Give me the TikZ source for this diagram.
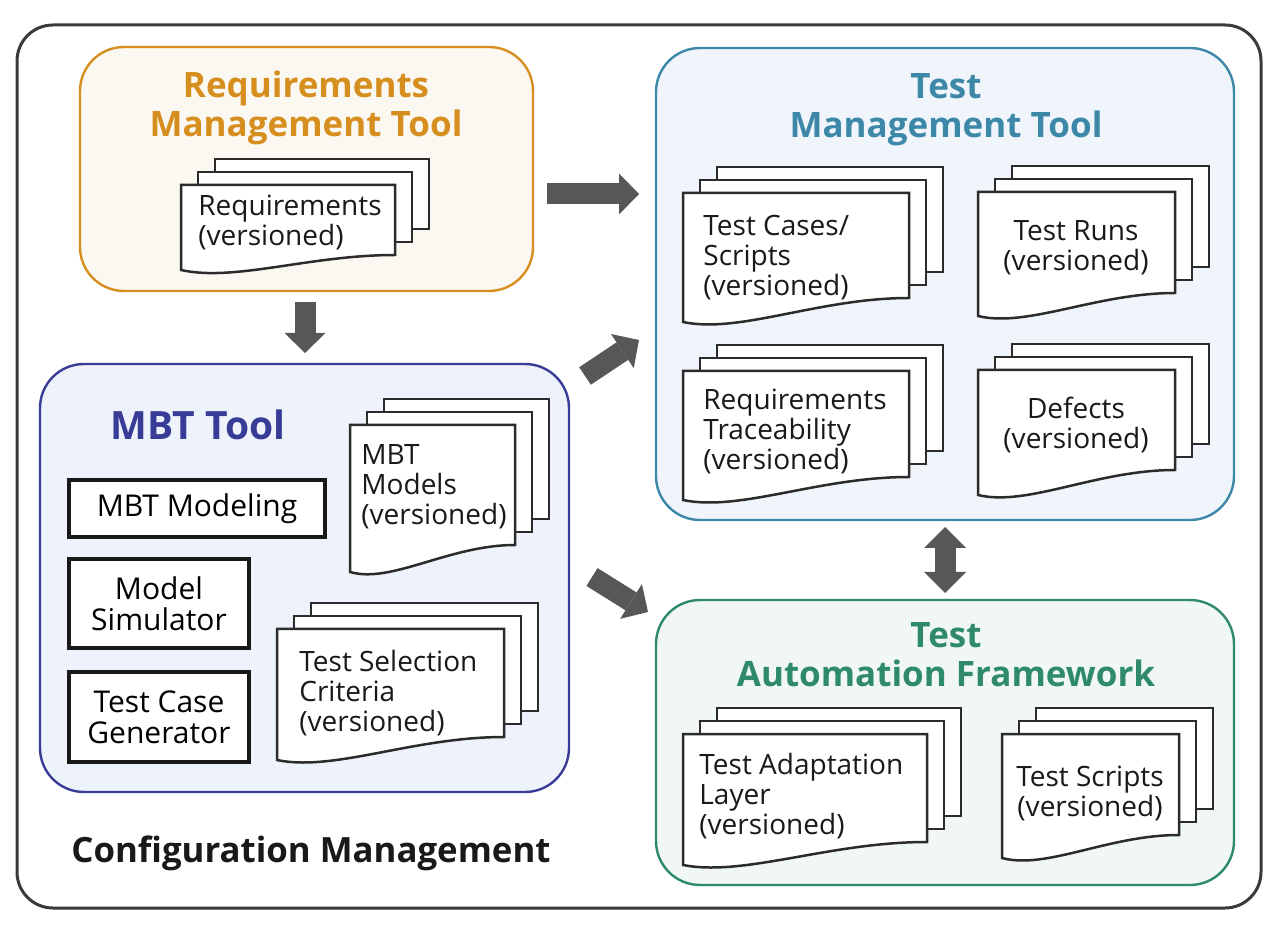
\documentclass[tikz,border=0pt]{standalone}
\usepackage{fontspec}
\setmainfont{Open Sans}
\usepackage{tikz}
\usetikzlibrary{calc, arrows.meta}

\definecolor{framegray}{HTML}{3A3A3A}
\definecolor{arrowgray}{HTML}{575757}
\definecolor{docline}{HTML}{2B2B2B}
\definecolor{reqorange}{HTML}{D68E1E}
\definecolor{reqfill}{HTML}{FBF8F1}
\definecolor{mbtblue}{HTML}{393C97}
\definecolor{mbtfill}{HTML}{EEF2FA}
\definecolor{tmtteal}{HTML}{3D88A8}
\definecolor{tmtfill}{HTML}{EFF5FA}
\definecolor{tafgreen}{HTML}{2E8A68}
\definecolor{taffill}{HTML}{F0F7F4}

% three stacked pages: left, top, width, height, wave depth
\newcommand{\docpages}[5]{%
  \filldraw[docpage] (#1+34,#2-26) rectangle (#1+#3+34,#2+#4-26);
  \filldraw[docpage] (#1+17,#2-13) rectangle (#1+#3+17,#2+#4-13);
  \filldraw[docpage] (#1,#2) -- (#1+#3,#2) -- (#1+#3,#2+#4)
    .. controls (#1+0.6*#3,#2+#4) and (#1+0.25*#3,#2+#4+#5+12) .. (#1,#2+#4+#5) -- cycle;
}

\begin{document}
\begin{tikzpicture}[x=0.5pt, y=-0.5pt,
    toolbox/.style={rounded corners=22pt, line width=1.2pt, inner sep=0},
    title/.style={font=\bfseries\fontsize{17.5}{19.5}\selectfont, align=center, inner sep=0},
    docpage/.style={fill=white, draw=docline, line width=1.25pt},
    doctext/.style={font=\fontsize{14}{15}\selectfont, text=black!90, inner sep=0},
    partbox/.style={draw=black!90, fill=white, line width=1.75pt, inner sep=0,
      align=center, font=\fontsize{15}{15.5}\selectfont},
    bigarrow/.style={draw=arrowgray, line width=10.5pt,
      -{Triangle[length=10pt, width=20.5pt, line width=0pt]}}]
    \useasboundingbox (0,0) rectangle (1280,940);
    % configuration management frame
    \node[draw=framegray, line width=1.5pt, rounded corners=18pt, inner sep=0,
      minimum width=622pt, minimum height=441.5pt] (cm) at (639,466.5) {};
    \node[anchor=base west, inner sep=0, text=black!90,
      font=\bfseries\fontsize{17.4}{20}\selectfont] (cmtitle) at (71,862) {Configuration Management};
    % tool boxes
    \node[toolbox, draw=reqorange, fill=reqfill, minimum width=226.5pt, minimum height=122pt] (req) at (306.5,169) {};
    \node[toolbox, draw=mbtblue, fill=mbtfill, minimum width=264.5pt, minimum height=214pt] (mbt) at (304.5,578) {};
    \node[toolbox, draw=tmtteal, fill=tmtfill, minimum width=289pt, minimum height=236pt] (tmt) at (945,284) {};
    \node[toolbox, draw=tafgreen, fill=taffill, minimum width=289pt, minimum height=142.5pt] (taf) at (945,742.5) {};
    \node[title, text=reqorange] (reqtitle) at (306,108) {Requirements\\Management Tool};
    \node[title, text=tmtteal] (tmttitle) at (946,110) {Test\\Management Tool};
    \node[title, text=tafgreen] (taftitle) at (946,655) {Test\\Automation Framework};
    \node[title, text=mbtblue, anchor=base, font=\bfseries\fontsize{19.5}{21}\selectfont] (mbttitle) at (198,440) {MBT Tool};
    % requirements
    \docpages{181}{185}{214}{70}{15}
    \node[doctext, anchor=west, align=left] (reqdoc) at (198,222) {Requirements\\(versioned)};
    % MBT tool
    \node[partbox, minimum width=128pt, minimum height=28.5pt] (model) at (197,508.5) {MBT Modeling};
    \node[partbox, minimum width=90pt, minimum height=44.5pt] (sim) at (159,603.5) {Model\\Simulator};
    \node[partbox, minimum width=90pt, minimum height=45pt] (gen) at (159,717) {Test Case\\Generator};
    \docpages{350}{425}{165}{120}{27}
    \node[doctext, anchor=west, align=left] (models) at (361,487) {MBT\\Models\\(versioned)};
    \docpages{277}{629}{227}{108}{23}
    \node[doctext, anchor=west, align=left] (criteria) at (299,693) {Test Selection\\Criteria\\(versioned)};
    % test management
    \docpages{683}{193}{226}{105}{24}
    \node[doctext, anchor=west, align=left] (cases) at (703,258) {Test Cases/\\Scripts\\(versioned)};
    \docpages{978}{192}{197}{101}{23}
    \node[doctext, align=center] (runs) at (1076,248) {Test Runs\\(versioned)};
    \docpages{683}{371}{226}{106}{23}
    \node[doctext, anchor=west, align=left] (trace) at (703,431) {Requirements\\Traceability\\(versioned)};
    \docpages{978}{370}{197}{100}{25}
    \node[doctext, align=center] (defects) at (1076,425) {Defects\\(versioned)};
    % test automation
    \docpages{683}{734}{244}{108}{23}
    \node[doctext, anchor=west, align=left] (layer) at (699,796) {Test Adaptation\\Layer\\(versioned)};
    \docpages{1002}{734}{177}{101}{23}
    \node[doctext, align=center] (scripts) at (1090,793) {Test Scripts\\(versioned)};
    % arrow ends
    \coordinate (req-e) at (547,194);
    \coordinate (tmt-w) at (639,194);
    \coordinate (req-s) at (305,302);
    \coordinate (mbt-n) at (305,353);
    \coordinate (mbt-ne) at (585,376);
    \coordinate (tmt-sw) at (639,340);
    \coordinate (mbt-se) at (592,577);
    \coordinate (taf-nw) at (648,612);
    \coordinate (tmt-s) at (945,527);
    \coordinate (taf-n) at (945,593);
    % arrows
    \draw[bigarrow] (req-e) -- (tmt-w);
    \draw[bigarrow] (req-s) -- (mbt-n);
    \draw[bigarrow] (mbt-ne) -- (tmt-sw);
    \draw[bigarrow] (mbt-se) -- (taf-nw);
    \draw[bigarrow, {Triangle[length=10.5pt, width=21pt, line width=0pt]}-{Triangle[length=10.5pt, width=21pt, line width=0pt]}] (tmt-s) -- (taf-n);
  \end{tikzpicture}
\end{document}
